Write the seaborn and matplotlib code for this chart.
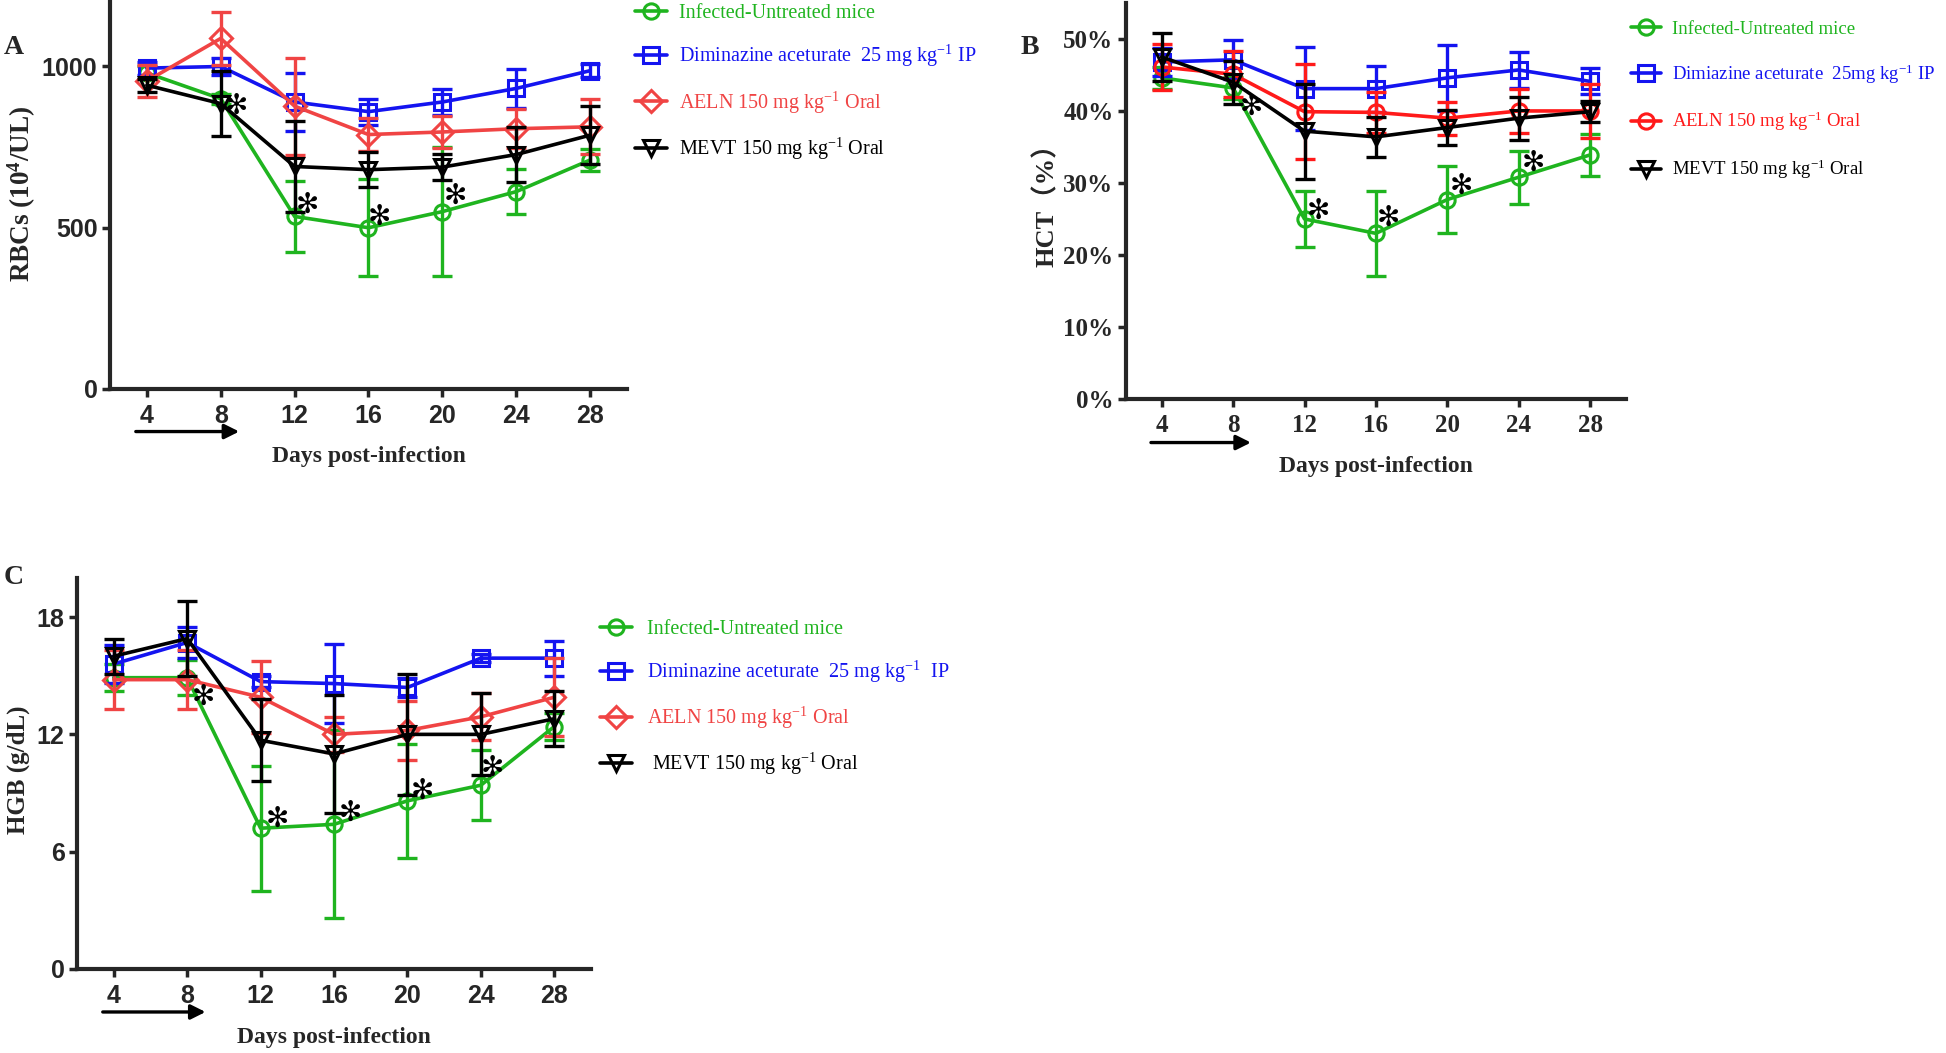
import seaborn as sns
import matplotlib.pyplot as plt

days = [4, 8, 12, 16, 20, 24, 28]

# Panel A - RBCs (10^4/UL), mean and SD
rbc_infected = [980, 900, 535, 500, 550, 612, 710]
rbc_infected_sd = [20, 15, 110, 150, 200, 70, 33]
rbc_dimin = [995, 1000, 890, 860, 890, 932, 987]
rbc_dimin_sd = [20, 25, 90, 40, 40, 60, 20]
rbc_aeln = [955, 1087, 877, 789, 797, 807, 813]
rbc_aeln_sd = [50, 83, 150, 50, 50, 60, 85]
rbc_mevt = [942, 885, 690, 680, 688, 727, 787]
rbc_mevt_sd = [20, 100, 140, 55, 40, 85, 90]
rbc_star_x = [8.84, 12.7, 16.6, 20.7]
rbc_star_y = [877, 572, 533, 600]

# Panel B - HCT (%)
hct_infected = [44.6, 43.2, 25.0, 23.0, 27.7, 30.8, 33.9]
hct_infected_sd = [1.5, 1.5, 3.9, 5.9, 4.6, 3.7, 2.9]
hct_dimin = [46.8, 47.1, 43.1, 43.1, 44.6, 45.7, 44.1]
hct_dimin_sd = [2.0, 2.7, 5.8, 3.2, 4.6, 2.5, 1.8]
hct_aeln = [46.1, 45.1, 39.9, 39.8, 39.0, 40.0, 40.0]
hct_aeln_sd = [3.2, 3.2, 6.6, 2.8, 2.3, 3.1, 3.7]
hct_mevt = [47.5, 44.0, 37.2, 36.4, 37.7, 39.0, 39.9]
hct_mevt_sd = [3.3, 3.0, 6.6, 2.8, 2.4, 3.0, 1.5]
hct_star_x = [9.0, 12.8, 16.7, 20.8, 24.8]
hct_star_y = [40.6, 26.1, 25.2, 29.6, 32.8]

# Panel C - HGB (g/dL)
hgb_infected = [14.9, 14.9, 7.2, 7.4, 8.6, 9.4, 12.4]
hgb_infected_sd = [0.7, 0.9, 3.2, 4.8, 2.9, 1.8, 0.7]
hgb_dimin = [15.6, 16.7, 14.7, 14.6, 14.4, 15.9, 15.9]
hgb_dimin_sd = [0.95, 0.8, 0.3, 2.0, 0.5, 0.2, 0.9]
hgb_aeln = [14.8, 14.8, 13.9, 12.0, 12.2, 12.9, 13.9]
hgb_aeln_sd = [1.5, 1.5, 1.85, 0.9, 1.5, 1.2, 2.0]
hgb_mevt = [16.0, 16.9, 11.7, 11.0, 12.0, 12.0, 12.8]
hgb_mevt_sd = [0.9, 1.9, 2.1, 3.0, 3.1, 2.1, 1.4]
hgb_star_x = [8.9, 12.9, 16.9, 20.8, 24.6]
hgb_star_y = [13.9, 7.7, 8.0, 9.1, 10.3]

labels_a = ["Infected-Untreated mice",
            "Diminazine aceturate  25 mg kg$^{-1}$ IP",
            "AELN 150 mg kg$^{-1}$ Oral",
            "MEVT 150 mg kg$^{-1}$ Oral"]
labels_b = ["Infected-Untreated mice",
            "Dimiazine aceturate  25mg kg$^{-1}$ IP",
            "AELN 150 mg kg$^{-1}$ Oral",
            "MEVT 150 mg kg$^{-1}$ Oral"]
labels_c = ["Infected-Untreated mice",
            "Diminazine aceturate  25 mg kg$^{-1}$  IP",
            "AELN 150 mg kg$^{-1}$ Oral",
            " MEVT 150 mg kg$^{-1}$ Oral"]

green = "#1fb41f"
blue = "#1414f0"
red_light = "#f04444"
red = "#ff1a1a"
black = "#000000"

sns.set_style("ticks")
plt.rcParams["mathtext.fontset"] = "custom"
plt.rcParams["mathtext.rm"] = "Liberation Serif"
plt.rcParams["mathtext.it"] = "Liberation Serif:italic"
plt.rcParams["mathtext.bf"] = "Liberation Serif:bold"

SANS = ["Liberation Sans Narrow", "Liberation Sans"]
SERIF = ["Liberation Serif"]

fig = plt.figure(figsize=(19.46, 10.53), dpi=100)
ax_a = fig.add_axes([0.0565, 0.6306, 0.2657, 0.3675])
ax_b = fig.add_axes([0.5786, 0.6211, 0.2569, 0.3761])
ax_c = fig.add_axes([0.0396, 0.0798, 0.2641, 0.3713])


def draw_panel(ax, series, sds, colors, markers, labels):
    for vals, sd, col, mk, lab in zip(series, sds, colors, markers, labels):
        ax.errorbar(days, vals, yerr=sd, fmt="none", ecolor=col,
                    elinewidth=2.4, capsize=7, capthick=2.4)
        sns.lineplot(x=days, y=vals, ax=ax, color=col, marker=mk,
                     markersize=11, markerfacecolor="none",
                     markeredgecolor=col, markeredgewidth=2.2,
                     linewidth=2.6, label=lab)


def style_axes(ax, tick_font, tick_size):
    sns.despine(ax=ax)
    for side in ["left", "bottom"]:
        ax.spines[side].set_linewidth(3)
    ax.tick_params(direction="out", length=6, width=2.5, pad=3)
    ax.tick_params(axis="x", pad=5)
    ax.set_xlim(2, 30)
    ax.set_xticks(days)
    for lbl in ax.get_xticklabels() + ax.get_yticklabels():
        lbl.set_family(tick_font)
        lbl.set_fontweight("bold")
        lbl.set_fontsize(tick_size)
    ax.annotate("", xy=(9.0, -0.11), xytext=(3.4, -0.11),
                xycoords=("data", "axes fraction"),
                textcoords=("data", "axes fraction"),
                arrowprops=dict(arrowstyle="-|>", lw=2.4, color="black",
                                mutation_scale=22, shrinkA=0, shrinkB=0))
    ax.set_xlabel("Days post-infection", family=SERIF, fontweight="bold",
                  fontsize=17)


def add_legend(ax, x, y, spacing, size, pad):
    ax.legend(loc="upper left", bbox_to_anchor=(x, y), frameon=False,
              borderaxespad=0, borderpad=0, handlelength=1.6,
              handletextpad=pad, labelspacing=spacing,
              labelcolor="linecolor", prop={"family": SERIF, "size": size})


def add_stars(ax, xs, ys):
    for sx, sy in zip(xs, ys):
        ax.text(sx, sy, "\u273b", ha="center", va="center", fontsize=20,
                family="DejaVu Sans", color="black")


# A
draw_panel(ax_a, [rbc_infected, rbc_dimin, rbc_aeln, rbc_mevt],
           [rbc_infected_sd, rbc_dimin_sd, rbc_aeln_sd, rbc_mevt_sd],
           [green, blue, red_light, black], ["o", "s", "D", "v"], labels_a)
ax_a.set_ylim(0, 1200)
ax_a.set_yticks([0, 500, 1000])
style_axes(ax_a, SANS, 18)
ax_a.set_ylabel("RBCs (10$^{\\mathbf{4}}$/UL)", family=SERIF,
                fontweight="bold", fontsize=19.5)
ax_a.yaxis.set_label_coords(-0.14, 0.504)
ax_a.xaxis.set_label_coords(0.5, -0.147)
add_stars(ax_a, rbc_star_x, rbc_star_y)
add_legend(ax_a, 1.015, 0.995, 1.0, 14.5, 0.6)

# B
draw_panel(ax_b, [hct_infected, hct_dimin, hct_aeln, hct_mevt],
           [hct_infected_sd, hct_dimin_sd, hct_aeln_sd, hct_mevt_sd],
           [green, blue, red, black], ["o", "s", "o", "v"], labels_b)
ax_b.set_ylim(0, 55)
ax_b.set_yticks([0, 10, 20, 30, 40, 50])
ax_b.set_yticklabels([f"{t}%" for t in [0, 10, 20, 30, 40, 50]])
style_axes(ax_b, SERIF, 18)
ax_b.set_ylabel("HCT\uff08%\uff09", family=SERIF + ["Noto Sans CJK SC"],
                fontweight="bold", fontsize=19)
ax_b.yaxis.set_label_coords(-0.134, 0.505)
ax_b.xaxis.set_label_coords(0.5, -0.144)
add_stars(ax_b, hct_star_x, hct_star_y)
add_legend(ax_b, 1.01, 0.955, 1.3, 13.5, 0.6)

# C
draw_panel(ax_c, [hgb_infected, hgb_dimin, hgb_aeln, hgb_mevt],
           [hgb_infected_sd, hgb_dimin_sd, hgb_aeln_sd, hgb_mevt_sd],
           [green, blue, red_light, black], ["o", "s", "D", "v"], labels_c)
ax_c.set_ylim(0, 20)
ax_c.set_yticks([0, 6, 12, 18])
style_axes(ax_c, SANS, 18)
ax_c.set_ylabel("HGB (g/dL)", family=SERIF, fontweight="bold", fontsize=18)
ax_c.yaxis.set_label_coords(-0.091, 0.509)
ax_c.xaxis.set_label_coords(0.5, -0.148)
add_stars(ax_c, hgb_star_x, hgb_star_y)
add_legend(ax_c, 1.018, 0.892, 0.98, 14.5, 0.7)

for letter, px, py in [("A", 14, 47), ("B", 1030, 47), ("C", 14, 578)]:
    fig.text(px / 1946, 1 - py / 1053, letter, ha="center", va="center",
             family=SERIF, fontweight="bold", fontsize=20)

fig.savefig("out.png", dpi=100)
